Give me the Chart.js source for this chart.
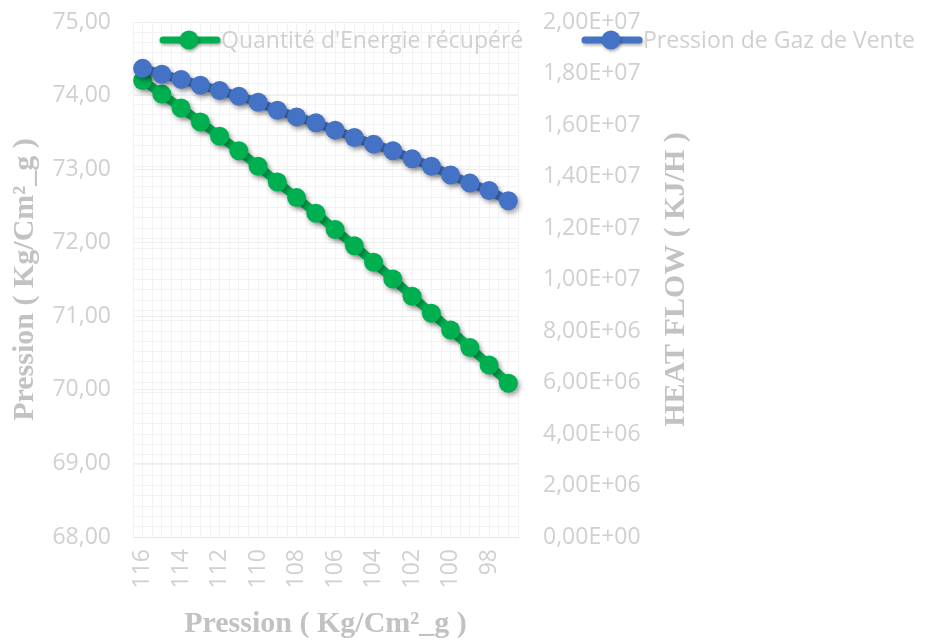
<!DOCTYPE html>
<html>
<head>
<meta charset="utf-8">
<script src="https://cdn.jsdelivr.net/npm/chart.js@4/dist/chart.umd.min.js"></script>
<style>
  html, body { margin: 0; padding: 0; background: #ffffff; }
  #wrap { width: 925px; height: 644px; }
</style>
</head>
<body>
<div id="wrap"><canvas id="chart" width="925" height="644"></canvas></div>
<script>
// Pression (Kg/Cm²_g) sur l'axe des abscisses
const categories = ['116','115','114','113','112','111','110','109','108','107',
                    '106','105','104','103','102','101','100','99','98','97'];

// Quantité d'énergie récupérée (KJ/H) - axe de droite
const energieRecuperee = [17730000, 17200000, 16660000, 16120000, 15560000,
                          15000000, 14400000, 13790000, 13180000, 12570000,
                          11940000, 11310000, 10670000, 10020000, 9350000,
                          8690000, 8040000, 7360000, 6680000, 5970000];

// Pression de gaz de vente (Kg/Cm²_g) - axe de gauche
const pressionGazVente = [74.37, 74.29, 74.22, 74.14, 74.07, 73.99, 73.91, 73.80, 73.71, 73.63,
                          73.53, 73.43, 73.34, 73.25, 73.14, 73.04, 72.92, 72.81, 72.71, 72.57];

const seriesLabels = ["Quantité d'Energie récupéré", 'Pression de Gaz de Vente'];
const axisTitles = ['Pression ( Kg/Cm²_g )', 'Pression ( Kg/Cm²_g )', 'HEAT FLOW ( KJ/H )'];

const GREEN = '#00B050';
const BLUE = '#4472C4';
const TICK_COLOR = '#d0d0d0';
const TITLE_COLOR = '#c2c2c2';
const MINOR_GRID = '#f3f3f3';
const TICK_FONT = { family: '"Open Sans", sans-serif', size: 23 };
const TITLE_FONT = { family: '"Liberation Serif", "Times New Roman", serif', size: 30, weight: 'bold' };

const fmtFixed = v => Number(v).toFixed(2).replace('.', ',');
const fmtSci = v => {
  const [m, e] = Number(v).toExponential(2).split('e');
  const n = parseInt(e, 10);
  return m.replace('.', ',') + 'E' + (n < 0 ? '-' : '+') + String(Math.abs(n)).padStart(2, '0');
};

// Fixed axis band sizes; tick labels may overhang the plot edges
const fitVertical = w => s => { s.width = w; s.paddingTop = 0; s.paddingBottom = 0; };

// Soft drop shadow under the lines and markers
const shadowPlugin = {
  id: 'seriesShadow',
  beforeDatasetDraw(chart) {
    const ctx = chart.ctx;
    ctx.save();
    ctx.shadowColor = 'rgba(0,0,0,0.35)';
    ctx.shadowBlur = 5;
    ctx.shadowOffsetX = 2;
    ctx.shadowOffsetY = 3;
  },
  afterDatasetDraw(chart) {
    chart.ctx.restore();
  }
};

// Legend row and right-hand axis title
const overlayPlugin = {
  id: 'overlay',
  afterDraw(chart) {
    const ctx = chart.ctx;
    const area = chart.chartArea;

    ctx.save();
    ctx.translate(676, (area.top + area.bottom) / 2);
    ctx.rotate(-Math.PI / 2);
    ctx.font = `bold ${TITLE_FONT.size}px ${TITLE_FONT.family}`;
    ctx.fillStyle = TITLE_COLOR;
    ctx.textAlign = 'center';
    ctx.textBaseline = 'middle';
    ctx.fillText(axisTitles[2], 0, 0);
    ctx.restore();

    const items = [
      { ds: chart.data.datasets[0], x: 160 },
      { ds: chart.data.datasets[1], x: 582 }
    ];
    const y = 40;
    items.forEach(it => {
      const c = it.ds.borderColor;
      ctx.save();
      ctx.shadowColor = 'rgba(0,0,0,0.3)';
      ctx.shadowBlur = 3;
      ctx.shadowOffsetX = 1;
      ctx.shadowOffsetY = 2;
      ctx.strokeStyle = c;
      ctx.lineWidth = 7;
      ctx.lineCap = 'round';
      ctx.beginPath();
      ctx.moveTo(it.x + 3, y);
      ctx.lineTo(it.x + 57, y);
      ctx.stroke();
      ctx.fillStyle = c;
      ctx.beginPath();
      ctx.arc(it.x + 29, y, 9.5, 0, Math.PI * 2);
      ctx.fill();
      ctx.restore();

      ctx.save();
      ctx.font = `${TICK_FONT.size}px ${TICK_FONT.family}`;
      ctx.fillStyle = TICK_COLOR;
      ctx.textAlign = 'left';
      ctx.textBaseline = 'middle';
      ctx.fillText(it.ds.label, it.x + 61, y + 1);
      ctx.restore();
    });
  }
};

new Chart(document.getElementById('chart'), {
  type: 'line',
  data: {
    labels: categories,
    datasets: [
      {
        label: seriesLabels[0],
        data: energieRecuperee,
        xAxisID: 'x',
        yAxisID: 'yRight',
        borderColor: GREEN,
        backgroundColor: GREEN,
        pointBackgroundColor: GREEN,
        borderWidth: 9,
        pointRadius: 9.5,
        pointBorderWidth: 0,
        tension: 0,
        order: 1
      },
      {
        label: seriesLabels[1],
        data: pressionGazVente,
        xAxisID: 'x',
        yAxisID: 'yLeft',
        borderColor: BLUE,
        backgroundColor: BLUE,
        pointBackgroundColor: BLUE,
        borderWidth: 9,
        pointRadius: 9.5,
        pointBorderWidth: 0,
        tension: 0,
        order: 0
      }
    ]
  },
  options: {
    responsive: false,
    animation: false,
    devicePixelRatio: 1,
    layout: { padding: { top: 22, right: 0, bottom: 0, left: 0 } },
    plugins: { legend: { display: false }, tooltip: { enabled: false } },
    scales: {
      x: {
        type: 'category',
        position: 'bottom',
        offset: true,
        grid: { display: false, drawTicks: false },
        border: { display: true, color: '#e6e6e6', width: 1 },
        ticks: {
          autoSkip: false,
          minRotation: 90,
          maxRotation: 90,
          padding: 12,
          color: TICK_COLOR,
          font: TICK_FONT,
          callback: (v, i) => (i % 2 === 0 ? categories[i] : '')
        },
        title: {
          display: true,
          text: axisTitles[0],
          color: TITLE_COLOR,
          font: TITLE_FONT,
          padding: { top: 0, bottom: 2 }
        },
        afterFit: s => { s.height = 107; }
      },
      gx: {
        type: 'linear',
        position: 'top',
        min: 0,
        max: 40,
        grid: { color: MINOR_GRID, drawTicks: false },
        border: { display: false },
        ticks: { display: false, stepSize: 1, maxTicksLimit: 100 },
        afterFit: s => { s.height = 0; }
      },
      gy: {
        type: 'linear',
        position: 'left',
        min: 0,
        max: 50,
        grid: { color: MINOR_GRID, drawTicks: false },
        border: { display: false },
        ticks: { display: false, stepSize: 1, maxTicksLimit: 100 },
        afterFit: fitVertical(0)
      },
      yLeft: {
        type: 'linear',
        position: 'left',
        min: 68,
        max: 75,
        grid: { color: '#eeeeee', drawTicks: false },
        border: { display: false },
        ticks: {
          stepSize: 1,
          padding: 22,
          color: TICK_COLOR,
          font: TICK_FONT,
          callback: v => fmtFixed(v)
        },
        title: {
          display: true,
          text: axisTitles[1],
          color: TITLE_COLOR,
          font: TITLE_FONT,
          padding: { top: 7, bottom: 0 }
        },
        afterFit: fitVertical(133)
      },
      yRight: {
        type: 'linear',
        position: 'right',
        min: 0,
        max: 20000000,
        grid: { display: false, drawTicks: false },
        border: { display: false },
        ticks: {
          stepSize: 2000000,
          padding: 25,
          color: TICK_COLOR,
          font: TICK_FONT,
          callback: v => fmtSci(v)
        },
        afterFit: fitVertical(407)
      }
    }
  },
  plugins: [shadowPlugin, overlayPlugin]
});
</script>
</body>
</html>
